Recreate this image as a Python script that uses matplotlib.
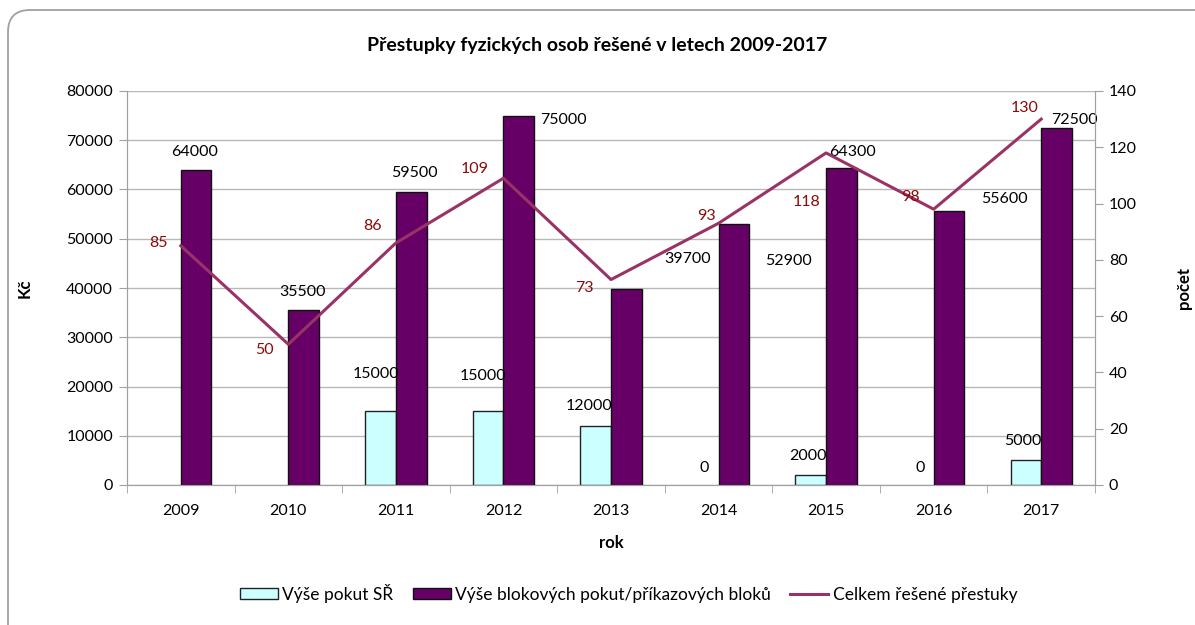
import matplotlib
matplotlib.use("Agg")
import matplotlib.pyplot as plt
import matplotlib.transforms as mtransforms
import numpy as np
from matplotlib.patches import FancyBboxPatch

plt.rcParams['font.family'] = ['Lato', 'DejaVu Sans']

years = ['2009', '2010', '2011', '2012', '2013', '2014', '2015', '2016', '2017']
pokuty_sr = [np.nan, np.nan, 15000, 15000, 12000, 0, 2000, 0, 5000]
blokove = [64000, 35500, 59500, 75000, 39700, 52900, 64300, 55600, 72500]
celkem = [85, 50, 86, 109, 73, 93, 118, 98, 130]

title = 'Přestupky fyzických osob řešené v letech 2009-2017'
series_names = ['Výše pokut SŘ', 'Výše blokových pokut/příkazových bloků', 'Celkem řešené přestuky']

# label offsets (points)
off_sr = [(0, 0), (0, 0), (-3, 27), (-4, 25), (-5, 14), (1, 12), (-2, 14), (1, 12), (-2, 14)]
off_bl = [(-1, 13), (-1, 13), (2, 14), (32, -3), (44, 22), (39, -26), (8, 12), (40, 9), (13, 6)]
off_ce = [(-16, 2), (-17, -4), (-17, 12), (-21, 7), (-19, -6), (-9, 5), (-14, -35), (-17, 9), (-12, 8)]

fig = plt.figure(figsize=(11.95, 6.25), dpi=100)
border = FancyBboxPatch((8, -60), 1400, 675, boxstyle="round,pad=0,rounding_size=22",
                        transform=mtransforms.IdentityTransform(), facecolor='none',
                        edgecolor='#A0A0A0', linewidth=1.3, zorder=-5)
fig.patches.append(border)

ax = fig.add_axes([0.1063, 0.224, 0.81, 0.6304])
ax2 = ax.twinx()

x = np.arange(len(years))
w = 0.285
cyan = '#CCFFFF'
purple = '#660066'
linec = '#993366'
labc = '#8B0A0A'

b1 = ax.bar(x - w / 2, pokuty_sr, w, color=cyan, edgecolor='#222222', linewidth=1.0, zorder=3,
            label=series_names[0])
b2 = ax.bar(x + w / 2, blokove, w, color=purple, edgecolor='#111111', linewidth=1.0, zorder=3,
            label=series_names[1])
for bar, v in zip(b1, pokuty_sr):
    if v == 0:
        bar.set_linewidth(0)
l1, = ax2.plot(x, celkem, color=linec, linewidth=2.2, zorder=4, label=series_names[2])

for i in range(len(years)):
    v = pokuty_sr[i]
    if not np.isnan(v):
        ax.annotate(f'{int(v)}', (x[i] - w / 2, v), xytext=off_sr[i], textcoords='offset points',
                    ha='center', va='center', fontsize=11.5, color='black', zorder=6)
    ax.annotate(f'{blokove[i]}', (x[i] + w / 2, blokove[i]), xytext=off_bl[i], textcoords='offset points',
                ha='center', va='center', fontsize=11.5, color='black', zorder=6)
    ax2.annotate(f'{celkem[i]}', (x[i], celkem[i]), xytext=off_ce[i], textcoords='offset points',
                 ha='center', va='center', fontsize=11.5, color=labc, zorder=6)

ax.set_xlim(-0.5, len(years) - 0.5)
ax.set_ylim(0, 80000)
ax.set_yticks(np.arange(0, 80001, 10000))
ax2.set_ylim(0, 140)
ax2.set_yticks(np.arange(0, 141, 20))
ax.set_xticks(x)
ax.set_xticklabels(years)
ax.set_xticks(np.arange(-0.5, len(years), 1), minor=True)
ax.tick_params(axis='x', which='major', length=0, pad=14, labelsize=11.5)
ax.tick_params(axis='x', which='minor', length=6, color='#A0A0A0', direction='out')
ax.tick_params(axis='y', length=6, color='#A0A0A0', labelsize=11.5, pad=4)
ax2.tick_params(axis='y', length=6, color='#A0A0A0', labelsize=11.5, pad=4)

ax.grid(axis='y', color='#B8B8B8', linewidth=1.0, zorder=0)
ax.set_axisbelow(True)
for a in (ax, ax2):
    a.spines['top'].set_visible(False)
    a.spines['left'].set_color('#A0A0A0')
    a.spines['right'].set_color('#A0A0A0')
    a.spines['bottom'].set_color('#A0A0A0')

ax.set_xlabel('rok', fontsize=12, fontweight='bold', labelpad=12)
ax.set_ylabel('Kč', fontsize=12, fontweight='bold', labelpad=24)
ax2.set_ylabel('počet', fontsize=12, fontweight='bold', labelpad=28)

fig.text(0.5, 0.927, title, ha='center', va='center', fontsize=14, fontweight='bold')

fig.legend(handles=[b1, b2, l1], loc='center', bbox_to_anchor=(0.526, 0.051), ncol=3, frameon=False,
           fontsize=12.5, handlelength=2.2, handleheight=0.55, handletextpad=0.25, columnspacing=1.1)

fig.savefig('out.png', dpi=100)
